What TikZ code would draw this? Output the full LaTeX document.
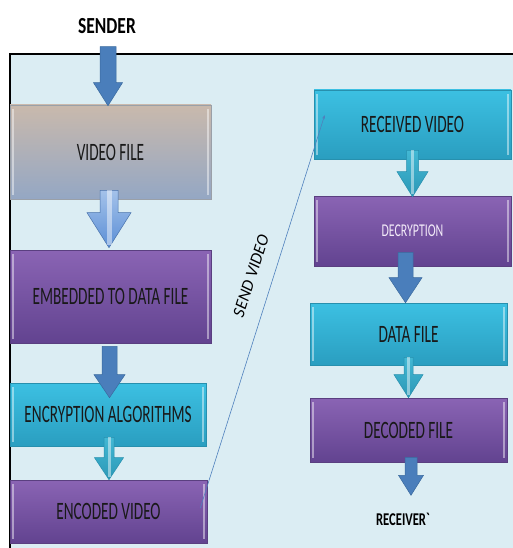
\documentclass[tikz,border=0pt]{standalone}
\usepackage{fontspec}
\setmainfont{Carlito}
\usepackage{graphicx}
\usetikzlibrary{calc,arrows.meta}
\definecolor{bgc}{HTML}{DBEDF3}
\definecolor{purT}{HTML}{8A64B4}
\definecolor{purB}{HTML}{624390}
\definecolor{purE}{HTML}{5A3F80}
\definecolor{cyT}{HTML}{3CC0E2}
\definecolor{cyB}{HTML}{2A9EC0}
\definecolor{cyE}{HTML}{2790AE}
\definecolor{tanT}{HTML}{C9B9AC}
\definecolor{tanM}{HTML}{B8A696}
\definecolor{tanB}{HTML}{94A7C4}
\definecolor{tanE}{HTML}{9AA0A8}
\definecolor{arrD}{HTML}{4A7EBB}
\definecolor{arrDE}{HTML}{3A6A9E}
\definecolor{arrLT}{HTML}{A4C2EA}
\definecolor{arrLB}{HTML}{5B8FD6}
\definecolor{arrCT}{HTML}{42B8D4}
\definecolor{arrCB}{HTML}{2C98B6}
\definecolor{decT}{HTML}{F2EAF8}
\definecolor{sendc}{HTML}{4F81BD}
\newcommand{\sq}[2][0.61]{\scalebox{#1}[1]{#2}}
% #1 shaft top coordinate, #2 tip coordinate, #3 shaft half width, #4 head half width, #5 head length, #6 style, #7 highlight style
\newcommand{\barrow}[7]{%
  \path[#6] let \p1=(#1), \p2=(#2) in
    (\x2-#3pt,\y1) -- (\x2+#3pt,\y1) -- (\x2+#3pt,\y2+#5pt) -- (\x2+#4pt,\y2+#5pt)
    -- (\x2,\y2) -- (\x2-#4pt,\y2+#5pt) -- (\x2-#3pt,\y2+#5pt) -- cycle;
  \path[#7] let \p1=(#1), \p2=(#2) in (\x2,\y1) -- (\x2,\y2+3pt);
}
\begin{document}
\begin{tikzpicture}[x=1pt,y=-1pt,
  bx/.style={rectangle, inner sep=0pt, font=\fontsize{25}{28}\selectfont, text=black!90, line width=0.6pt,
    path picture={
      \draw[white,opacity=0.45,line width=1.2pt] ([xshift=3pt,yshift=-4pt]path picture bounding box.north west) -- ([xshift=3pt,yshift=4pt]path picture bounding box.south west);
      \draw[white,opacity=0.45,line width=1.2pt] ([xshift=-3pt,yshift=-4pt]path picture bounding box.north east) -- ([xshift=-3pt,yshift=4pt]path picture bounding box.south east);
    }},
  purpbox/.style={bx, top color=purT, bottom color=purB, draw=purE},
  cyanbox/.style={bx, top color=cyT, bottom color=cyB, draw=cyE},
  tanbox/.style={bx, top color=tanT, middle color=tanM, bottom color=tanB, draw=tanE},
  darkarr/.style={fill=arrD, draw=arrDE, line width=0.5pt},
  lightarr/.style={top color=arrLT, bottom color=arrLB, draw=arrLB!80!black, line width=0.5pt},
  cyarr/.style={top color=arrCT, bottom color=arrCB, draw=cyE, line width=0.5pt},
  nohl/.style={},
  hl/.style={draw=white, draw opacity=0.45, line width=#1},
]
\useasboundingbox (0,0) rectangle (512,548);
\draw[fill=bgc, line width=1.5pt] (10,54) rectangle (522,560);

\node[tanbox, minimum width=201pt, minimum height=94pt] (vf) at (110.5,152) {\sq{VIDEO FILE}};
\node[purpbox, minimum width=201pt, minimum height=93pt] (emb) at (110.5,296.5) {\sq{EMBEDDED TO DATA FILE}};
\node[cyanbox, minimum width=196pt, minimum height=63pt] (enc) at (108,414.5) {\sq{ENCRYPTION ALGORITHMS}};
\node[purpbox, minimum width=197pt, minimum height=63pt] (ev) at (108.5,511.5) {\sq{ENCODED VIDEO}};
\node[cyanbox, minimum width=197pt, minimum height=69pt] (rv) at (412.5,124.5) {\sq{RECEIVED VIDEO}};
\node[purpbox, minimum width=197pt, minimum height=70pt, text=decT, font=\fontsize{18}{20}\selectfont] (dec) at (412.5,231) {\sq[0.66]{DECRYPTION}};
\node[cyanbox, minimum width=197pt, minimum height=62pt] (df) at (408.5,334) {\sq{DATA FILE}};
\node[purpbox, minimum width=197pt, minimum height=64pt] (dcf) at (408.5,430) {\sq{DECODED FILE}};

\node[font=\bfseries\fontsize{23}{26}\selectfont] (snd) at (107,26) {\sq[0.76]{SENDER}};
\node[font=\bfseries\fontsize{18}{20}\selectfont] (rcv) at (403,519) {\sq[0.7]{RECEIVER\textasciigrave}};

\barrow{$(vf.north)+(-2.5,-58)$}{$(vf.north)+(-2.5,1)$}{8}{14.5}{23}{darkarr}{nohl}
\barrow{$(vf.south)+(-1.5,-9)$}{$(emb.north)+(-1.5,-2)$}{9}{22}{35}{lightarr}{hl=5pt}
\barrow{$(emb.south)+(-1,3)$}{$(enc.north)+(1.5,15)$}{7.5}{15.5}{23}{darkarr}{nohl}
\barrow{$(enc.south)+(1,-9)$}{$(ev.north)+(0.5,0)$}{5}{14.5}{22}{cyarr}{hl=3pt}
\barrow{$(rv.south)+(0,-9)$}{$(dec.north)+(0,1)$}{6}{15.5}{25}{cyarr}{hl=3.5pt}
\barrow{$(dec.south)+(-7,-14)$}{$(df.north)+(-3,0)$}{7.5}{16.5}{25}{darkarr}{nohl}
\barrow{$(df.south)+(0,-8)$}{$(dcf.north)+(0,0)$}{4.5}{14.5}{23}{cyarr}{hl=2.5pt}
\barrow{$(dcf.south)+(2.5,-5)$}{$(dcf.south)+(2.5,33)$}{6}{12.5}{20}{darkarr}{nohl}

\draw[sendc, line width=0.6pt, -{Stealth[length=4pt,width=3pt]}] ($(ev.east)+(-7,-3.5)$) -- ($(rv.west)+(11,-9.5)$);
\node[font=\itshape\fontsize{17}{20}\selectfont, rotate=72] (sv) at (251,276) {SEND VIDEO};
\end{tikzpicture}
\end{document}
